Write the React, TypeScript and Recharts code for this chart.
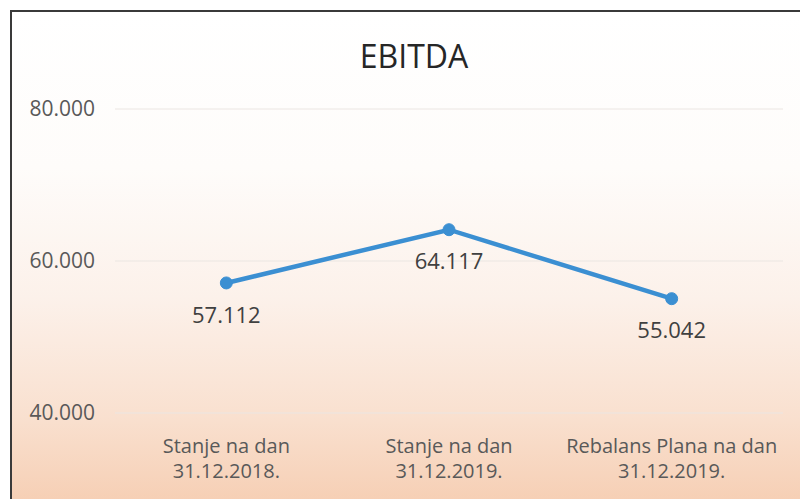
import React from "react";
import { LineChart, Line, XAxis, YAxis, CartesianGrid, LabelList } from "recharts";

const title = "EBITDA";
const categories = [
  "Stanje na dan\n31.12.2018.",
  "Stanje na dan\n31.12.2019.",
  "Rebalans Plana na dan\n31.12.2019.",
];
const ebitda = [57112, 64117, 55042];
const yTicks = [40000, 60000, 80000];

const data = categories.map((c, i) => ({ name: c, value: ebitda[i] }));

const fmt = (v: number) => {
  const s = Math.round(v).toString();
  return s.replace(/\B(?=(\d{3})+(?!\d))/g, ".");
};

const FONT = "'Open Sans', sans-serif";

const CatTick = (props: any) => {
  const { x, y, payload } = props;
  const lines = String(payload.value).split("\n");
  return (
    <g transform={`translate(${x},${y})`}>
      {lines.map((l: string, i: number) => (
        <text
          key={i}
          x={0}
          y={32 + i * 25}
          textAnchor="middle"
          fill="#595959"
          fontSize={20}
          fontFamily={FONT}
        >
          {l}
        </text>
      ))}
    </g>
  );
};

export default function App() {
  return (
    <div
      style={{
        position: "fixed",
        left: 0,
        top: 0,
        width: 800,
        height: 499,
        overflow: "hidden",
        background: "#ffffff",
      }}
    >
      <div
        style={{
          position: "absolute",
          left: 10,
          top: 10,
          width: 820,
          height: 520,
          border: "2px solid #3a3a3a",
          background:
            "linear-gradient(to bottom, #ffffff 0%, #fefcfa 30%, #fcf1ea 55%, #f9e0cf 78%, #f5c9ab 100%)",
        }}
      />
      <svg
        width={800}
        height={100}
        style={{ position: "absolute", left: 0, top: 0 }}
      >
        <text
          x={414}
          y={68}
          textAnchor="middle"
          fontFamily={FONT}
          fontSize={32}
          fill="#262626"
        >
          {title}
        </text>
      </svg>
      <div style={{ position: "absolute", left: 0, top: 0 }}>
        <LineChart
          width={800}
          height={499}
          data={data}
          margin={{ top: 109, right: 17, bottom: 0, left: 0 }}
        >
          <CartesianGrid vertical={false} stroke="#ebe6e2" strokeWidth={1} />
          <XAxis
            dataKey="name"
            scale="band"
            axisLine={false}
            tickLine={false}
            tick={<CatTick />}
            interval={0}
            height={86}
          />
          <YAxis
            width={115}
            domain={[40000, 80000]}
            ticks={yTicks}
            axisLine={false}
            tickLine={false}
            tickSize={0}
            tickMargin={20}
            tickFormatter={fmt}
            tick={{ fill: "#595959", fontSize: 21, fontFamily: FONT }}
          />
          <Line
            type="linear"
            dataKey="value"
            stroke="#3b8fd2"
            strokeWidth={4.5}
            dot={{ r: 6, fill: "#3b8fd2", stroke: "#3b8fd2", strokeWidth: 1 }}
            isAnimationActive={false}
          >
            <LabelList
              dataKey="value"
              position="bottom"
              offset={24}
              formatter={(v: any) => fmt(Number(v))}
              fill="#404040"
              fontSize={22}
              fontFamily={FONT}
            />
          </Line>
        </LineChart>
      </div>
    </div>
  );
}
